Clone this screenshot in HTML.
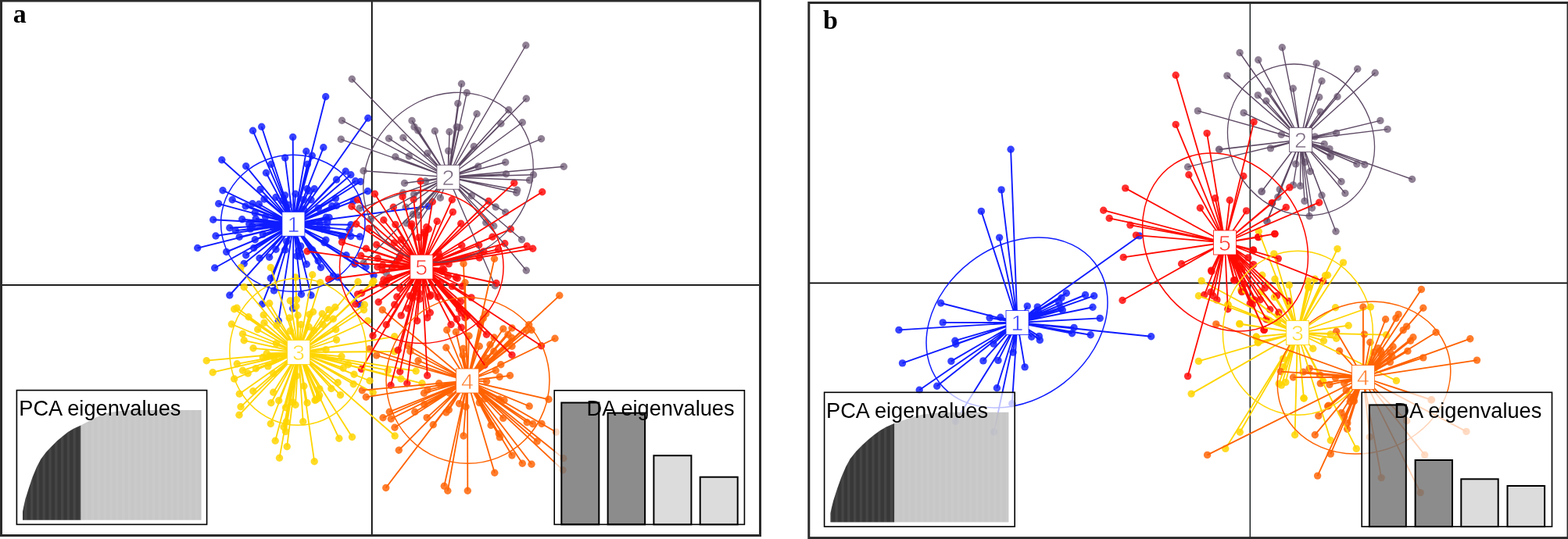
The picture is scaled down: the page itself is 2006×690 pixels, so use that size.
<!DOCTYPE html>
<html lang="en"><head><meta charset="utf-8"><title>DAPC scatter plots</title>
<style>
html,body{margin:0;padding:0;background:#fff;}
body{width:2006px;height:690px;overflow:hidden;}
svg{display:block;font-family:"Liberation Sans",sans-serif;}
</style></head><body>
<svg width="2006" height="690" viewBox="0 0 2006 690">
<defs>
<pattern id="stripeD" width="7.8" height="8" patternUnits="userSpaceOnUse"><rect x="0" y="0" width="3.2" height="8" fill="#fff" fill-opacity=".07"/></pattern>
<pattern id="stripeL" width="7.8" height="8" patternUnits="userSpaceOnUse"><rect x="0" y="0" width="3.2" height="8" fill="#fff" fill-opacity=".06"/></pattern>
</defs>
<rect width="2006" height="690" fill="#fff"/>
<g id="panel-a">
<path d="M475.8 1V685.5" stroke="#000" stroke-width="1.8" fill="none"/>
<path d="M1.5 364.8H972.5" stroke="#000" stroke-width="1.8" fill="none"/>
<g fill="#1422ff" fill-opacity=".85"><circle cx="416.7" cy="123.7" r="4.7"/><circle cx="470.8" cy="151.3" r="4.7"/><circle cx="334.7" cy="162.2" r="4.7"/><circle cx="323.5" cy="167.2" r="4.7"/><circle cx="374.7" cy="175.5" r="4.7"/><circle cx="413.8" cy="188.8" r="4.7"/><circle cx="391.8" cy="193.7" r="4.7"/><circle cx="399.3" cy="199.2" r="4.7"/><circle cx="393.3" cy="210.3" r="4.7"/><circle cx="364.7" cy="202" r="4.7"/><circle cx="283.8" cy="204.7" r="4.7"/><circle cx="314.7" cy="212.8" r="4.7"/><circle cx="346.8" cy="210.3" r="4.7"/><circle cx="340.5" cy="221.3" r="4.7"/><circle cx="442.2" cy="219.2" r="4.7"/><circle cx="448.8" cy="223.7" r="4.7"/><circle cx="285" cy="243.7" r="4.7"/><circle cx="333" cy="242.5" r="4.7"/><circle cx="338" cy="255" r="4.7"/><circle cx="353" cy="252.5" r="4.7"/><circle cx="364.7" cy="250" r="4.7"/><circle cx="378" cy="248.3" r="4.7"/><circle cx="393" cy="241.7" r="4.7"/><circle cx="402.2" cy="241.7" r="4.7"/><circle cx="398" cy="255.8" r="4.7"/><circle cx="430.5" cy="230" r="4.7"/><circle cx="454.7" cy="231.7" r="4.7"/><circle cx="461.3" cy="232.5" r="4.7"/><circle cx="470.5" cy="244.7" r="4.7"/><circle cx="297.2" cy="255.8" r="4.7"/><circle cx="279.7" cy="260.8" r="4.7"/><circle cx="323" cy="260.8" r="4.7"/><circle cx="331.3" cy="261.3" r="4.7"/><circle cx="430.5" cy="263.3" r="4.7"/><circle cx="452.2" cy="257.5" r="4.7"/><circle cx="417.2" cy="278.3" r="4.7"/><circle cx="418.8" cy="284.2" r="4.7"/><circle cx="413" cy="293.3" r="4.7"/><circle cx="272.7" cy="281.2" r="4.7"/><circle cx="309.7" cy="280.8" r="4.7"/><circle cx="327.2" cy="280" r="4.7"/><circle cx="293.8" cy="291.7" r="4.7"/><circle cx="301.3" cy="295.3" r="4.7"/><circle cx="276" cy="302" r="4.7"/><circle cx="306.3" cy="303.3" r="4.7"/><circle cx="326.3" cy="306.7" r="4.7"/><circle cx="336.3" cy="300" r="4.7"/><circle cx="252.7" cy="317.5" r="4.7"/><circle cx="289.7" cy="322.5" r="4.7"/><circle cx="314.7" cy="326.7" r="4.7"/><circle cx="324.7" cy="317.5" r="4.7"/><circle cx="353" cy="319.2" r="4.7"/><circle cx="364.7" cy="320" r="4.7"/><circle cx="384.7" cy="315" r="4.7"/><circle cx="448.8" cy="302.5" r="4.7"/><circle cx="460.5" cy="303" r="4.7"/><circle cx="443" cy="326.7" r="4.7"/><circle cx="383.8" cy="328.3" r="4.7"/><circle cx="437.2" cy="303.3" r="4.7"/><circle cx="274.7" cy="343" r="4.7"/><circle cx="312.2" cy="337.5" r="4.7"/><circle cx="346.3" cy="356.3" r="4.7"/><circle cx="350.5" cy="372" r="4.7"/><circle cx="293.8" cy="378" r="4.7"/><circle cx="335.5" cy="389.2" r="4.7"/><circle cx="374.7" cy="395" r="4.7"/><circle cx="356.3" cy="410.8" r="4.7"/><circle cx="385.5" cy="376.7" r="4.7"/><circle cx="398" cy="378" r="4.7"/><circle cx="392.2" cy="338.3" r="4.7"/><circle cx="410.5" cy="342.5" r="4.7"/><circle cx="426.3" cy="353.3" r="4.7"/><circle cx="432.2" cy="355" r="4.7"/><circle cx="460.5" cy="390" r="4.7"/><circle cx="478" cy="352.5" r="4.7"/><circle cx="468" cy="341.7" r="4.7"/><circle cx="453.8" cy="338.3" r="4.7"/><circle cx="548" cy="264" r="4.7"/><circle cx="326.2" cy="272.4" r="4.7"/><circle cx="416.9" cy="307.1" r="4.7"/><circle cx="322.6" cy="289.3" r="4.7"/><circle cx="395" cy="244.2" r="4.7"/><circle cx="332.1" cy="330.5" r="4.7"/><circle cx="407.3" cy="266.5" r="4.7"/><circle cx="429.4" cy="254" r="4.7"/><circle cx="366.6" cy="309.2" r="4.7"/><circle cx="446.9" cy="294.4" r="4.7"/><circle cx="344.6" cy="329.2" r="4.7"/><circle cx="388.5" cy="267.9" r="4.7"/><circle cx="349.7" cy="291.2" r="4.7"/><circle cx="388.4" cy="255.6" r="4.7"/><circle cx="421.1" cy="278.5" r="4.7"/><circle cx="314.2" cy="264" r="4.7"/><circle cx="320.3" cy="293.1" r="4.7"/><circle cx="318.8" cy="286.7" r="4.7"/><circle cx="339.6" cy="277.5" r="4.7"/><circle cx="448.9" cy="287.8" r="4.7"/><circle cx="407.1" cy="334" r="4.7"/><circle cx="361.6" cy="256.6" r="4.7"/><circle cx="368.9" cy="262.3" r="4.7"/><circle cx="379.8" cy="327.7" r="4.7"/><circle cx="399.7" cy="320" r="4.7"/><circle cx="439.1" cy="303.1" r="4.7"/><circle cx="409.1" cy="286.7" r="4.7"/><circle cx="415" cy="310.6" r="4.7"/><circle cx="418.3" cy="291.8" r="4.7"/><circle cx="424.7" cy="263.7" r="4.7"/><circle cx="381.9" cy="321.1" r="4.7"/></g>
<g fill="#7d6b83" fill-opacity=".85"><circle cx="672.8" cy="58" r="4.7"/><circle cx="450.3" cy="101.2" r="4.7"/><circle cx="590.5" cy="107.2" r="4.7"/><circle cx="597.2" cy="118.8" r="4.7"/><circle cx="673.3" cy="126.3" r="4.7"/><circle cx="585.8" cy="132.5" r="4.7"/><circle cx="650.8" cy="140.8" r="4.7"/><circle cx="610" cy="145.8" r="4.7"/><circle cx="437.5" cy="154.2" r="4.7"/><circle cx="527" cy="154.5" r="4.7"/><circle cx="640.8" cy="158.3" r="4.7"/><circle cx="668.3" cy="156.7" r="4.7"/><circle cx="436.3" cy="178.3" r="4.7"/><circle cx="497.5" cy="177.2" r="4.7"/><circle cx="515.8" cy="176.2" r="4.7"/><circle cx="530" cy="162.5" r="4.7"/><circle cx="534.7" cy="167" r="4.7"/><circle cx="556.3" cy="167.8" r="4.7"/><circle cx="575" cy="168.7" r="4.7"/><circle cx="584.2" cy="162.5" r="4.7"/><circle cx="588" cy="163.3" r="4.7"/><circle cx="692.5" cy="177.8" r="4.7"/><circle cx="606.3" cy="187.5" r="4.7"/><circle cx="546.7" cy="196.3" r="4.7"/><circle cx="505.8" cy="200.8" r="4.7"/><circle cx="523.3" cy="200" r="4.7"/><circle cx="646.7" cy="207.8" r="4.7"/><circle cx="611.7" cy="213" r="4.7"/><circle cx="721.3" cy="213.3" r="4.7"/><circle cx="465" cy="218.7" r="4.7"/><circle cx="647.5" cy="222.8" r="4.7"/><circle cx="682.5" cy="223.7" r="4.7"/><circle cx="677.5" cy="230.8" r="4.7"/><circle cx="517.5" cy="234.5" r="4.7"/><circle cx="661.7" cy="243.3" r="4.7"/><circle cx="660.8" cy="246.7" r="4.7"/><circle cx="603.3" cy="250.8" r="4.7"/><circle cx="634.2" cy="265" r="4.7"/><circle cx="646.7" cy="271.7" r="4.7"/><circle cx="563.3" cy="253.3" r="4.7"/><circle cx="460" cy="266.7" r="4.7"/><circle cx="667.5" cy="306.7" r="4.7"/><circle cx="673.3" cy="346.3" r="4.7"/><circle cx="633.3" cy="365.8" r="4.7"/><circle cx="520" cy="285.8" r="4.7"/><circle cx="528.3" cy="274.2" r="4.7"/><circle cx="474.2" cy="280.8" r="4.7"/><circle cx="621.7" cy="285" r="4.7"/><circle cx="631.7" cy="289.2" r="4.7"/><circle cx="494.2" cy="349.2" r="4.7"/><circle cx="465" cy="336.7" r="4.7"/><circle cx="515.5" cy="247" r="4.7"/><circle cx="544.5" cy="232" r="4.7"/><circle cx="519.1" cy="265.2" r="4.7"/><circle cx="535.3" cy="275.5" r="4.7"/><circle cx="573.7" cy="193.1" r="4.7"/><circle cx="529.6" cy="248.7" r="4.7"/></g>
<g fill="#ffd500" fill-opacity=".85"><circle cx="308" cy="342.5" r="4.7"/><circle cx="346.3" cy="342.5" r="4.7"/><circle cx="399.7" cy="351.7" r="4.7"/><circle cx="409.7" cy="361.7" r="4.7"/><circle cx="312.2" cy="367.5" r="4.7"/><circle cx="378" cy="355" r="4.7"/><circle cx="299.7" cy="395.8" r="4.7"/><circle cx="303" cy="394.2" r="4.7"/><circle cx="344.7" cy="388.3" r="4.7"/><circle cx="371.3" cy="385" r="4.7"/><circle cx="318" cy="405.8" r="4.7"/><circle cx="337.2" cy="403.3" r="4.7"/><circle cx="296.3" cy="415" r="4.7"/><circle cx="338" cy="413.3" r="4.7"/><circle cx="329.7" cy="421.7" r="4.7"/><circle cx="310.5" cy="427.5" r="4.7"/><circle cx="312.2" cy="435.8" r="4.7"/><circle cx="400.5" cy="399.2" r="4.7"/><circle cx="412.2" cy="401.7" r="4.7"/><circle cx="428.8" cy="393.3" r="4.7"/><circle cx="426.3" cy="408.3" r="4.7"/><circle cx="429.7" cy="421.7" r="4.7"/><circle cx="430.5" cy="435" r="4.7"/><circle cx="466.3" cy="390" r="4.7"/><circle cx="465.5" cy="396.7" r="4.7"/><circle cx="458" cy="360.8" r="4.7"/><circle cx="476.3" cy="362.5" r="4.7"/><circle cx="470.5" cy="410.8" r="4.7"/><circle cx="504.7" cy="430.8" r="4.7"/><circle cx="478" cy="359.7" r="4.7"/><circle cx="264.2" cy="461.7" r="4.7"/><circle cx="272.2" cy="476.7" r="4.7"/><circle cx="303.3" cy="465.8" r="4.7"/><circle cx="310.5" cy="474.2" r="4.7"/><circle cx="317.2" cy="478" r="4.7"/><circle cx="299.7" cy="485" r="4.7"/><circle cx="306.3" cy="504.2" r="4.7"/><circle cx="323.8" cy="500.8" r="4.7"/><circle cx="308" cy="520.8" r="4.7"/><circle cx="306" cy="531.3" r="4.7"/><circle cx="349.7" cy="502.2" r="4.7"/><circle cx="346.8" cy="515.8" r="4.7"/><circle cx="346.3" cy="542.5" r="4.7"/><circle cx="374.7" cy="515" r="4.7"/><circle cx="378" cy="518.3" r="4.7"/><circle cx="365.5" cy="521.7" r="4.7"/><circle cx="388.8" cy="494.2" r="4.7"/><circle cx="393" cy="515.8" r="4.7"/><circle cx="403" cy="512.5" r="4.7"/><circle cx="387.7" cy="539.7" r="4.7"/><circle cx="366.3" cy="540" r="4.7"/><circle cx="363" cy="546.7" r="4.7"/><circle cx="432.2" cy="489.7" r="4.7"/><circle cx="423.8" cy="497.5" r="4.7"/><circle cx="435.5" cy="505.8" r="4.7"/><circle cx="452.2" cy="491.7" r="4.7"/><circle cx="453" cy="479.2" r="4.7"/><circle cx="473" cy="487.5" r="4.7"/><circle cx="477.2" cy="502.5" r="4.7"/><circle cx="445.5" cy="466.7" r="4.7"/><circle cx="341.3" cy="452.5" r="4.7"/><circle cx="336.3" cy="457.5" r="4.7"/><circle cx="504.7" cy="450" r="4.7"/><circle cx="513" cy="485" r="4.7"/><circle cx="532.2" cy="475" r="4.7"/><circle cx="496.3" cy="474.2" r="4.7"/><circle cx="365.5" cy="552.5" r="4.7"/><circle cx="352.2" cy="564.2" r="4.7"/><circle cx="367.2" cy="571.7" r="4.7"/><circle cx="357.5" cy="586.3" r="4.7"/><circle cx="402.2" cy="590.8" r="4.7"/><circle cx="433.8" cy="561.3" r="4.7"/><circle cx="450.5" cy="559.5" r="4.7"/><circle cx="505.2" cy="558" r="4.7"/><circle cx="540" cy="490.8" r="4.7"/><circle cx="378.9" cy="392.2" r="4.7"/><circle cx="356.7" cy="512.7" r="4.7"/><circle cx="395" cy="418.4" r="4.7"/><circle cx="401.7" cy="422.9" r="4.7"/><circle cx="379.2" cy="481.1" r="4.7"/><circle cx="350.5" cy="457.8" r="4.7"/><circle cx="370.2" cy="407" r="4.7"/><circle cx="408.8" cy="497.8" r="4.7"/><circle cx="417" cy="447.6" r="4.7"/><circle cx="420.6" cy="396.4" r="4.7"/><circle cx="404.2" cy="511.6" r="4.7"/><circle cx="408.6" cy="506" r="4.7"/><circle cx="439.1" cy="471.2" r="4.7"/><circle cx="379.4" cy="383.6" r="4.7"/><circle cx="324" cy="445.8" r="4.7"/><circle cx="342.9" cy="468.9" r="4.7"/><circle cx="354" cy="416.6" r="4.7"/><circle cx="371.3" cy="423.8" r="4.7"/><circle cx="407.5" cy="509.7" r="4.7"/><circle cx="436.9" cy="456.3" r="4.7"/><circle cx="327.4" cy="471.8" r="4.7"/><circle cx="418" cy="407.2" r="4.7"/><circle cx="353.5" cy="439.6" r="4.7"/><circle cx="395.8" cy="402.7" r="4.7"/><circle cx="381.1" cy="403.8" r="4.7"/><circle cx="349.7" cy="478.1" r="4.7"/><circle cx="413" cy="415.2" r="4.7"/><circle cx="385" cy="415.5" r="4.7"/></g>
<g fill="#ff6608" fill-opacity=".85"><circle cx="593" cy="337.5" r="4.7"/><circle cx="632.5" cy="331.3" r="4.7"/><circle cx="595" cy="361.7" r="4.7"/><circle cx="715.8" cy="378.3" r="4.7"/><circle cx="489.2" cy="396.7" r="4.7"/><circle cx="676.7" cy="415.8" r="4.7"/><circle cx="673.3" cy="422.5" r="4.7"/><circle cx="680" cy="422.5" r="4.7"/><circle cx="710" cy="433.3" r="4.7"/><circle cx="655" cy="420" r="4.7"/><circle cx="650" cy="428.3" r="4.7"/><circle cx="571.7" cy="422.5" r="4.7"/><circle cx="583.3" cy="425" r="4.7"/><circle cx="600" cy="430" r="4.7"/><circle cx="570.8" cy="445" r="4.7"/><circle cx="655" cy="443.3" r="4.7"/><circle cx="472.5" cy="446.7" r="4.7"/><circle cx="481.7" cy="455" r="4.7"/><circle cx="521.7" cy="442.5" r="4.7"/><circle cx="535" cy="461.7" r="4.7"/><circle cx="640.8" cy="466.7" r="4.7"/><circle cx="634.2" cy="474.2" r="4.7"/><circle cx="652.5" cy="480.8" r="4.7"/><circle cx="639.2" cy="482.5" r="4.7"/><circle cx="622.5" cy="488.3" r="4.7"/><circle cx="561.7" cy="490.8" r="4.7"/><circle cx="618.3" cy="407.5" r="4.7"/><circle cx="621.7" cy="401.7" r="4.7"/><circle cx="613.3" cy="443.3" r="4.7"/><circle cx="463.3" cy="499.7" r="4.7"/><circle cx="468.3" cy="508.3" r="4.7"/><circle cx="542.5" cy="503.3" r="4.7"/><circle cx="498.3" cy="527.2" r="4.7"/><circle cx="490" cy="534.7" r="4.7"/><circle cx="500.3" cy="536.2" r="4.7"/><circle cx="530.8" cy="527.2" r="4.7"/><circle cx="505" cy="547.2" r="4.7"/><circle cx="570.8" cy="528" r="4.7"/><circle cx="587.5" cy="516.7" r="4.7"/><circle cx="554.2" cy="543.8" r="4.7"/><circle cx="593" cy="558" r="4.7"/><circle cx="510.3" cy="576.3" r="4.7"/><circle cx="645" cy="512.5" r="4.7"/><circle cx="677.2" cy="520" r="4.7"/><circle cx="702" cy="511.3" r="4.7"/><circle cx="674.2" cy="540.8" r="4.7"/><circle cx="681.7" cy="542.8" r="4.7"/><circle cx="693" cy="542.5" r="4.7"/><circle cx="687.2" cy="565" r="4.7"/><circle cx="711.7" cy="553.3" r="4.7"/><circle cx="655" cy="583" r="4.7"/><circle cx="720.8" cy="586.7" r="4.7"/><circle cx="668.3" cy="593.3" r="4.7"/><circle cx="680" cy="594.2" r="4.7"/><circle cx="493.7" cy="624.5" r="4.7"/><circle cx="568.3" cy="622.2" r="4.7"/><circle cx="572.8" cy="628.3" r="4.7"/><circle cx="598.3" cy="628.3" r="4.7"/><circle cx="632.8" cy="605.3" r="4.7"/><circle cx="720" cy="601.7" r="4.7"/><circle cx="546.1" cy="534.6" r="4.7"/><circle cx="592.6" cy="446.3" r="4.7"/><circle cx="574.3" cy="524.7" r="4.7"/><circle cx="654.7" cy="432.5" r="4.7"/><circle cx="638.3" cy="555.3" r="4.7"/><circle cx="638.7" cy="511" r="4.7"/><circle cx="632.1" cy="432" r="4.7"/><circle cx="628.1" cy="544.5" r="4.7"/><circle cx="575.1" cy="503.3" r="4.7"/><circle cx="639.4" cy="559.9" r="4.7"/><circle cx="643.8" cy="421" r="4.7"/><circle cx="643.7" cy="535.4" r="4.7"/><circle cx="542.8" cy="517.8" r="4.7"/><circle cx="613.3" cy="515.6" r="4.7"/><circle cx="621.5" cy="458.1" r="4.7"/><circle cx="627" cy="441.2" r="4.7"/><circle cx="620.6" cy="510.5" r="4.7"/><circle cx="592.1" cy="454.6" r="4.7"/><circle cx="596" cy="520.7" r="4.7"/><circle cx="524.8" cy="449.7" r="4.7"/><circle cx="547" cy="499.1" r="4.7"/><circle cx="631.8" cy="449.8" r="4.7"/></g>
<g fill="#ff0c0c" fill-opacity=".85"><circle cx="393" cy="321.7" r="4.7"/><circle cx="420.5" cy="357.5" r="4.7"/><circle cx="454.7" cy="389.2" r="4.7"/><circle cx="504.7" cy="390" r="4.7"/><circle cx="538" cy="232" r="4.7"/><circle cx="657.8" cy="234.2" r="4.7"/><circle cx="693.7" cy="245.8" r="4.7"/><circle cx="479.5" cy="248.3" r="4.7"/><circle cx="515" cy="251.7" r="4.7"/><circle cx="529.2" cy="255.3" r="4.7"/><circle cx="553.3" cy="258.3" r="4.7"/><circle cx="578.3" cy="255.8" r="4.7"/><circle cx="625" cy="257.5" r="4.7"/><circle cx="503.3" cy="265.3" r="4.7"/><circle cx="450" cy="264.2" r="4.7"/><circle cx="457.5" cy="255.8" r="4.7"/><circle cx="455.8" cy="286.7" r="4.7"/><circle cx="471.7" cy="292.5" r="4.7"/><circle cx="490.8" cy="281.7" r="4.7"/><circle cx="437.5" cy="310" r="4.7"/><circle cx="468.3" cy="318.3" r="4.7"/><circle cx="481.7" cy="313.3" r="4.7"/><circle cx="483.3" cy="330.8" r="4.7"/><circle cx="489.2" cy="345.8" r="4.7"/><circle cx="498.3" cy="355.8" r="4.7"/><circle cx="511.7" cy="369.2" r="4.7"/><circle cx="457.5" cy="376.7" r="4.7"/><circle cx="559.2" cy="283.3" r="4.7"/><circle cx="589.7" cy="286.2" r="4.7"/><circle cx="548.3" cy="293.3" r="4.7"/><circle cx="653.3" cy="293.3" r="4.7"/><circle cx="630" cy="303.3" r="4.7"/><circle cx="645.8" cy="311.7" r="4.7"/><circle cx="674.2" cy="315" r="4.7"/><circle cx="681.7" cy="318.3" r="4.7"/><circle cx="637.5" cy="319.2" r="4.7"/><circle cx="590.8" cy="314.2" r="4.7"/><circle cx="613.3" cy="330" r="4.7"/><circle cx="583.3" cy="355" r="4.7"/><circle cx="635" cy="362.5" r="4.7"/><circle cx="550" cy="379.2" r="4.7"/><circle cx="531.7" cy="370" r="4.7"/><circle cx="513.3" cy="306.7" r="4.7"/><circle cx="526.7" cy="286.7" r="4.7"/><circle cx="484.2" cy="386.7" r="4.7"/><circle cx="521.7" cy="395" r="4.7"/><circle cx="587.5" cy="395.8" r="4.7"/><circle cx="494.2" cy="415.8" r="4.7"/><circle cx="533.7" cy="410.8" r="4.7"/><circle cx="546.7" cy="406.7" r="4.7"/><circle cx="577" cy="415.5" r="4.7"/><circle cx="590.3" cy="419.2" r="4.7"/><circle cx="622.5" cy="428.3" r="4.7"/><circle cx="477" cy="429.7" r="4.7"/><circle cx="655" cy="454.5" r="4.7"/><circle cx="692.5" cy="442.8" r="4.7"/><circle cx="509.2" cy="448.3" r="4.7"/><circle cx="462.5" cy="472.5" r="4.7"/><circle cx="511.7" cy="475.8" r="4.7"/><circle cx="546.7" cy="480.8" r="4.7"/><circle cx="520.8" cy="490.8" r="4.7"/><circle cx="500" cy="493.3" r="4.7"/><circle cx="620" cy="467.5" r="4.7"/><circle cx="614.2" cy="415.8" r="4.7"/><circle cx="565.6" cy="347.2" r="4.7"/><circle cx="536.1" cy="375.4" r="4.7"/><circle cx="566.5" cy="343.9" r="4.7"/><circle cx="589.5" cy="386" r="4.7"/><circle cx="594.9" cy="406.8" r="4.7"/><circle cx="542.4" cy="297.4" r="4.7"/><circle cx="527.9" cy="381.3" r="4.7"/><circle cx="535.9" cy="303.9" r="4.7"/><circle cx="590.2" cy="400.9" r="4.7"/><circle cx="551.2" cy="377.7" r="4.7"/><circle cx="591.3" cy="366.5" r="4.7"/><circle cx="545.7" cy="290.8" r="4.7"/><circle cx="512" cy="327.6" r="4.7"/><circle cx="494.4" cy="359.8" r="4.7"/><circle cx="462.6" cy="375.2" r="4.7"/><circle cx="507.8" cy="380" r="4.7"/><circle cx="597.4" cy="404.5" r="4.7"/><circle cx="453.8" cy="336.8" r="4.7"/><circle cx="574.1" cy="337.9" r="4.7"/><circle cx="579.3" cy="271.4" r="4.7"/><circle cx="513.2" cy="403.9" r="4.7"/><circle cx="526.2" cy="289.5" r="4.7"/><circle cx="563.9" cy="361.5" r="4.7"/><circle cx="561" cy="323.5" r="4.7"/><circle cx="461.8" cy="327.2" r="4.7"/><circle cx="490.9" cy="358" r="4.7"/><circle cx="501.8" cy="342.2" r="4.7"/><circle cx="585.2" cy="356.2" r="4.7"/><circle cx="543.5" cy="299.1" r="4.7"/><circle cx="560.3" cy="380.2" r="4.7"/><circle cx="578.4" cy="366.6" r="4.7"/><circle cx="510.5" cy="331.3" r="4.7"/><circle cx="603" cy="380.9" r="4.7"/><circle cx="506.3" cy="336.7" r="4.7"/><circle cx="489.5" cy="339.5" r="4.7"/><circle cx="584.6" cy="408.5" r="4.7"/><circle cx="536.8" cy="383" r="4.7"/><circle cx="618.9" cy="321.9" r="4.7"/><circle cx="573.3" cy="353.3" r="4.7"/><circle cx="482.9" cy="341.7" r="4.7"/><circle cx="567.9" cy="345.7" r="4.7"/><circle cx="612.7" cy="313.7" r="4.7"/><circle cx="489.2" cy="363.6" r="4.7"/><circle cx="550.3" cy="400.2" r="4.7"/><circle cx="524.3" cy="378.7" r="4.7"/><circle cx="562.3" cy="329" r="4.7"/><circle cx="505.9" cy="287.4" r="4.7"/><circle cx="504.3" cy="310.9" r="4.7"/></g>
<path d="M375.4 286.8L416.7 123.7M375.4 286.8L470.8 151.3M375.4 286.8L334.7 162.2M375.4 286.8L323.5 167.2M375.4 286.8L374.7 175.5M375.4 286.8L413.8 188.8M375.4 286.8L391.8 193.7M375.4 286.8L399.3 199.2M375.4 286.8L393.3 210.3M375.4 286.8L364.7 202M375.4 286.8L283.8 204.7M375.4 286.8L314.7 212.8M375.4 286.8L346.8 210.3M375.4 286.8L340.5 221.3M375.4 286.8L442.2 219.2M375.4 286.8L448.8 223.7M375.4 286.8L285 243.7M375.4 286.8L333 242.5M375.4 286.8L338 255M375.4 286.8L353 252.5M375.4 286.8L364.7 250M375.4 286.8L378 248.3M375.4 286.8L393 241.7M375.4 286.8L402.2 241.7M375.4 286.8L398 255.8M375.4 286.8L430.5 230M375.4 286.8L454.7 231.7M375.4 286.8L461.3 232.5M375.4 286.8L470.5 244.7M375.4 286.8L297.2 255.8M375.4 286.8L279.7 260.8M375.4 286.8L323 260.8M375.4 286.8L331.3 261.3M375.4 286.8L430.5 263.3M375.4 286.8L452.2 257.5M375.4 286.8L417.2 278.3M375.4 286.8L418.8 284.2M375.4 286.8L413 293.3M375.4 286.8L272.7 281.2M375.4 286.8L309.7 280.8M375.4 286.8L327.2 280M375.4 286.8L293.8 291.7M375.4 286.8L301.3 295.3M375.4 286.8L276 302M375.4 286.8L306.3 303.3M375.4 286.8L326.3 306.7M375.4 286.8L336.3 300M375.4 286.8L252.7 317.5M375.4 286.8L289.7 322.5M375.4 286.8L314.7 326.7M375.4 286.8L324.7 317.5M375.4 286.8L353 319.2M375.4 286.8L364.7 320M375.4 286.8L384.7 315M375.4 286.8L448.8 302.5M375.4 286.8L460.5 303M375.4 286.8L443 326.7M375.4 286.8L383.8 328.3M375.4 286.8L437.2 303.3M375.4 286.8L274.7 343M375.4 286.8L312.2 337.5M375.4 286.8L346.3 356.3M375.4 286.8L350.5 372M375.4 286.8L293.8 378M375.4 286.8L335.5 389.2M375.4 286.8L374.7 395M375.4 286.8L356.3 410.8M375.4 286.8L385.5 376.7M375.4 286.8L398 378M375.4 286.8L392.2 338.3M375.4 286.8L410.5 342.5M375.4 286.8L426.3 353.3M375.4 286.8L432.2 355M375.4 286.8L460.5 390M375.4 286.8L478 352.5M375.4 286.8L468 341.7M375.4 286.8L453.8 338.3M375.4 286.8L548 264M375.4 286.8L326.2 272.4M375.4 286.8L416.9 307.1M375.4 286.8L322.6 289.3M375.4 286.8L395 244.2M375.4 286.8L332.1 330.5M375.4 286.8L407.3 266.5M375.4 286.8L429.4 254M375.4 286.8L366.6 309.2M375.4 286.8L446.9 294.4M375.4 286.8L344.6 329.2M375.4 286.8L388.5 267.9M375.4 286.8L349.7 291.2M375.4 286.8L388.4 255.6M375.4 286.8L421.1 278.5M375.4 286.8L314.2 264M375.4 286.8L320.3 293.1M375.4 286.8L318.8 286.7M375.4 286.8L339.6 277.5M375.4 286.8L448.9 287.8M375.4 286.8L407.1 334M375.4 286.8L361.6 256.6M375.4 286.8L368.9 262.3M375.4 286.8L379.8 327.7M375.4 286.8L399.7 320M375.4 286.8L439.1 303.1M375.4 286.8L409.1 286.7M375.4 286.8L415 310.6M375.4 286.8L418.3 291.8M375.4 286.8L424.7 263.7M375.4 286.8L381.9 321.1" stroke="#0f1cff" stroke-width="1.9" fill="none"/>
<path d="M573.4 226.8L672.8 58M573.4 226.8L450.3 101.2M573.4 226.8L590.5 107.2M573.4 226.8L597.2 118.8M573.4 226.8L673.3 126.3M573.4 226.8L585.8 132.5M573.4 226.8L650.8 140.8M573.4 226.8L610 145.8M573.4 226.8L437.5 154.2M573.4 226.8L527 154.5M573.4 226.8L640.8 158.3M573.4 226.8L668.3 156.7M573.4 226.8L436.3 178.3M573.4 226.8L497.5 177.2M573.4 226.8L515.8 176.2M573.4 226.8L530 162.5M573.4 226.8L534.7 167M573.4 226.8L556.3 167.8M573.4 226.8L575 168.7M573.4 226.8L584.2 162.5M573.4 226.8L588 163.3M573.4 226.8L692.5 177.8M573.4 226.8L606.3 187.5M573.4 226.8L546.7 196.3M573.4 226.8L505.8 200.8M573.4 226.8L523.3 200M573.4 226.8L646.7 207.8M573.4 226.8L611.7 213M573.4 226.8L721.3 213.3M573.4 226.8L465 218.7M573.4 226.8L647.5 222.8M573.4 226.8L682.5 223.7M573.4 226.8L677.5 230.8M573.4 226.8L517.5 234.5M573.4 226.8L661.7 243.3M573.4 226.8L660.8 246.7M573.4 226.8L603.3 250.8M573.4 226.8L634.2 265M573.4 226.8L646.7 271.7M573.4 226.8L563.3 253.3M573.4 226.8L460 266.7M573.4 226.8L667.5 306.7M573.4 226.8L673.3 346.3M573.4 226.8L633.3 365.8M573.4 226.8L520 285.8M573.4 226.8L528.3 274.2M573.4 226.8L474.2 280.8M573.4 226.8L621.7 285M573.4 226.8L631.7 289.2M573.4 226.8L494.2 349.2M573.4 226.8L465 336.7M573.4 226.8L515.5 247M573.4 226.8L544.5 232M573.4 226.8L519.1 265.2M573.4 226.8L535.3 275.5M573.4 226.8L573.7 193.1M573.4 226.8L529.6 248.7" stroke="#5e4a65" stroke-width="1.4" fill="none"/>
<path d="M382 451L308 342.5M382 451L346.3 342.5M382 451L399.7 351.7M382 451L409.7 361.7M382 451L312.2 367.5M382 451L378 355M382 451L299.7 395.8M382 451L303 394.2M382 451L344.7 388.3M382 451L371.3 385M382 451L318 405.8M382 451L337.2 403.3M382 451L296.3 415M382 451L338 413.3M382 451L329.7 421.7M382 451L310.5 427.5M382 451L312.2 435.8M382 451L400.5 399.2M382 451L412.2 401.7M382 451L428.8 393.3M382 451L426.3 408.3M382 451L429.7 421.7M382 451L430.5 435M382 451L466.3 390M382 451L465.5 396.7M382 451L458 360.8M382 451L476.3 362.5M382 451L470.5 410.8M382 451L504.7 430.8M382 451L478 359.7M382 451L264.2 461.7M382 451L272.2 476.7M382 451L303.3 465.8M382 451L310.5 474.2M382 451L317.2 478M382 451L299.7 485M382 451L306.3 504.2M382 451L323.8 500.8M382 451L308 520.8M382 451L306 531.3M382 451L349.7 502.2M382 451L346.8 515.8M382 451L346.3 542.5M382 451L374.7 515M382 451L378 518.3M382 451L365.5 521.7M382 451L388.8 494.2M382 451L393 515.8M382 451L403 512.5M382 451L387.7 539.7M382 451L366.3 540M382 451L363 546.7M382 451L432.2 489.7M382 451L423.8 497.5M382 451L435.5 505.8M382 451L452.2 491.7M382 451L453 479.2M382 451L473 487.5M382 451L477.2 502.5M382 451L445.5 466.7M382 451L341.3 452.5M382 451L336.3 457.5M382 451L504.7 450M382 451L513 485M382 451L532.2 475M382 451L496.3 474.2M382 451L365.5 552.5M382 451L352.2 564.2M382 451L367.2 571.7M382 451L357.5 586.3M382 451L402.2 590.8M382 451L433.8 561.3M382 451L450.5 559.5M382 451L505.2 558M382 451L540 490.8M382 451L378.9 392.2M382 451L356.7 512.7M382 451L395 418.4M382 451L401.7 422.9M382 451L379.2 481.1M382 451L350.5 457.8M382 451L370.2 407M382 451L408.8 497.8M382 451L417 447.6M382 451L420.6 396.4M382 451L404.2 511.6M382 451L408.6 506M382 451L439.1 471.2M382 451L379.4 383.6M382 451L324 445.8M382 451L342.9 468.9M382 451L354 416.6M382 451L371.3 423.8M382 451L407.5 509.7M382 451L436.9 456.3M382 451L327.4 471.8M382 451L418 407.2M382 451L353.5 439.6M382 451L395.8 402.7M382 451L381.1 403.8M382 451L349.7 478.1M382 451L413 415.2M382 451L385 415.5" stroke="#ffd500" stroke-width="1.8" fill="none"/>
<path d="M598 487.5L593 337.5M598 487.5L632.5 331.3M598 487.5L595 361.7M598 487.5L715.8 378.3M598 487.5L489.2 396.7M598 487.5L676.7 415.8M598 487.5L673.3 422.5M598 487.5L680 422.5M598 487.5L710 433.3M598 487.5L655 420M598 487.5L650 428.3M598 487.5L571.7 422.5M598 487.5L583.3 425M598 487.5L600 430M598 487.5L570.8 445M598 487.5L655 443.3M598 487.5L472.5 446.7M598 487.5L481.7 455M598 487.5L521.7 442.5M598 487.5L535 461.7M598 487.5L640.8 466.7M598 487.5L634.2 474.2M598 487.5L652.5 480.8M598 487.5L639.2 482.5M598 487.5L622.5 488.3M598 487.5L561.7 490.8M598 487.5L618.3 407.5M598 487.5L621.7 401.7M598 487.5L613.3 443.3M598 487.5L463.3 499.7M598 487.5L468.3 508.3M598 487.5L542.5 503.3M598 487.5L498.3 527.2M598 487.5L490 534.7M598 487.5L500.3 536.2M598 487.5L530.8 527.2M598 487.5L505 547.2M598 487.5L570.8 528M598 487.5L587.5 516.7M598 487.5L554.2 543.8M598 487.5L593 558M598 487.5L510.3 576.3M598 487.5L645 512.5M598 487.5L677.2 520M598 487.5L702 511.3M598 487.5L674.2 540.8M598 487.5L681.7 542.8M598 487.5L693 542.5M598 487.5L687.2 565M598 487.5L711.7 553.3M598 487.5L655 583M598 487.5L720.8 586.7M598 487.5L668.3 593.3M598 487.5L680 594.2M598 487.5L493.7 624.5M598 487.5L568.3 622.2M598 487.5L572.8 628.3M598 487.5L598.3 628.3M598 487.5L632.8 605.3M598 487.5L720 601.7M598 487.5L546.1 534.6M598 487.5L592.6 446.3M598 487.5L574.3 524.7M598 487.5L654.7 432.5M598 487.5L638.3 555.3M598 487.5L638.7 511M598 487.5L632.1 432M598 487.5L628.1 544.5M598 487.5L575.1 503.3M598 487.5L639.4 559.9M598 487.5L643.8 421M598 487.5L643.7 535.4M598 487.5L542.8 517.8M598 487.5L613.3 515.6M598 487.5L621.5 458.1M598 487.5L627 441.2M598 487.5L620.6 510.5M598 487.5L592.1 454.6M598 487.5L596 520.7M598 487.5L524.8 449.7M598 487.5L547 499.1M598 487.5L631.8 449.8" stroke="#ff6200" stroke-width="1.8" fill="none"/>
<path d="M539.3 341.7L393 321.7M539.3 341.7L420.5 357.5M539.3 341.7L454.7 389.2M539.3 341.7L504.7 390M539.3 341.7L538 232M539.3 341.7L657.8 234.2M539.3 341.7L693.7 245.8M539.3 341.7L479.5 248.3M539.3 341.7L515 251.7M539.3 341.7L529.2 255.3M539.3 341.7L553.3 258.3M539.3 341.7L578.3 255.8M539.3 341.7L625 257.5M539.3 341.7L503.3 265.3M539.3 341.7L450 264.2M539.3 341.7L457.5 255.8M539.3 341.7L455.8 286.7M539.3 341.7L471.7 292.5M539.3 341.7L490.8 281.7M539.3 341.7L437.5 310M539.3 341.7L468.3 318.3M539.3 341.7L481.7 313.3M539.3 341.7L483.3 330.8M539.3 341.7L489.2 345.8M539.3 341.7L498.3 355.8M539.3 341.7L511.7 369.2M539.3 341.7L457.5 376.7M539.3 341.7L559.2 283.3M539.3 341.7L589.7 286.2M539.3 341.7L548.3 293.3M539.3 341.7L653.3 293.3M539.3 341.7L630 303.3M539.3 341.7L645.8 311.7M539.3 341.7L674.2 315M539.3 341.7L681.7 318.3M539.3 341.7L637.5 319.2M539.3 341.7L590.8 314.2M539.3 341.7L613.3 330M539.3 341.7L583.3 355M539.3 341.7L635 362.5M539.3 341.7L550 379.2M539.3 341.7L531.7 370M539.3 341.7L513.3 306.7M539.3 341.7L526.7 286.7M539.3 341.7L484.2 386.7M539.3 341.7L521.7 395M539.3 341.7L587.5 395.8M539.3 341.7L494.2 415.8M539.3 341.7L533.7 410.8M539.3 341.7L546.7 406.7M539.3 341.7L577 415.5M539.3 341.7L590.3 419.2M539.3 341.7L622.5 428.3M539.3 341.7L477 429.7M539.3 341.7L655 454.5M539.3 341.7L692.5 442.8M539.3 341.7L509.2 448.3M539.3 341.7L462.5 472.5M539.3 341.7L511.7 475.8M539.3 341.7L546.7 480.8M539.3 341.7L520.8 490.8M539.3 341.7L500 493.3M539.3 341.7L620 467.5M539.3 341.7L614.2 415.8M539.3 341.7L565.6 347.2M539.3 341.7L536.1 375.4M539.3 341.7L566.5 343.9M539.3 341.7L589.5 386M539.3 341.7L594.9 406.8M539.3 341.7L542.4 297.4M539.3 341.7L527.9 381.3M539.3 341.7L535.9 303.9M539.3 341.7L590.2 400.9M539.3 341.7L551.2 377.7M539.3 341.7L591.3 366.5M539.3 341.7L545.7 290.8M539.3 341.7L512 327.6M539.3 341.7L494.4 359.8M539.3 341.7L462.6 375.2M539.3 341.7L507.8 380M539.3 341.7L597.4 404.5M539.3 341.7L453.8 336.8M539.3 341.7L574.1 337.9M539.3 341.7L579.3 271.4M539.3 341.7L513.2 403.9M539.3 341.7L526.2 289.5M539.3 341.7L563.9 361.5M539.3 341.7L561 323.5M539.3 341.7L461.8 327.2M539.3 341.7L490.9 358M539.3 341.7L501.8 342.2M539.3 341.7L585.2 356.2M539.3 341.7L543.5 299.1M539.3 341.7L560.3 380.2M539.3 341.7L578.4 366.6M539.3 341.7L510.5 331.3M539.3 341.7L603 380.9M539.3 341.7L506.3 336.7M539.3 341.7L489.5 339.5M539.3 341.7L584.6 408.5M539.3 341.7L536.8 383M539.3 341.7L618.9 321.9M539.3 341.7L573.3 353.3M539.3 341.7L482.9 341.7M539.3 341.7L567.9 345.7M539.3 341.7L612.7 313.7M539.3 341.7L489.2 363.6M539.3 341.7L550.3 400.2M539.3 341.7L524.3 378.7M539.3 341.7L562.3 329M539.3 341.7L505.9 287.4M539.3 341.7L504.3 310.9" stroke="#ff0a00" stroke-width="1.8" fill="none"/>
<ellipse cx="374.8" cy="285.8" rx="92.2" ry="87.5" transform="rotate(0 374.8 285.8)" fill="none" stroke="#0f1cff" stroke-width="1.5"/>
<ellipse cx="573.5" cy="227" rx="115" ry="102" transform="rotate(-45 573.5 227)" fill="none" stroke="#5e4a65" stroke-width="1.3"/>
<ellipse cx="381.3" cy="450.3" rx="87.5" ry="94" transform="rotate(0 381.3 450.3)" fill="none" stroke="#ffd500" stroke-width="1.5"/>
<ellipse cx="598.5" cy="487" rx="104.5" ry="106.3" transform="rotate(0 598.5 487)" fill="none" stroke="#ff6200" stroke-width="1.5"/>
<ellipse cx="539.3" cy="341.5" rx="104.8" ry="98" transform="rotate(0 539.3 341.5)" fill="none" stroke="#ff0a00" stroke-width="1.5"/>
<rect x="558.9" y="211.3" width="29" height="31" fill="#fff" stroke="#5e4a65" stroke-width="1" stroke-opacity=".8"/>
<text x="573.4" y="237.1" text-anchor="middle" font-size="28.5" fill="#5e4a65" fill-opacity=".85" stroke="#fff" stroke-width=".7">2</text>
<rect x="360.9" y="271.3" width="29" height="31" fill="#fff" stroke="#0f1cff" stroke-width="1" stroke-opacity=".8"/>
<text x="375.4" y="297.1" text-anchor="middle" font-size="28.5" fill="#0f1cff" fill-opacity=".85" stroke="#fff" stroke-width=".7">1</text>
<rect x="367.5" y="435.5" width="29" height="31" fill="#fff" stroke="#ffd500" stroke-width="1" stroke-opacity=".8"/>
<text x="382" y="461.3" text-anchor="middle" font-size="28.5" fill="#ffd500" fill-opacity=".85" stroke="#fff" stroke-width=".7">3</text>
<rect x="583.5" y="472" width="29" height="31" fill="#fff" stroke="#ff6200" stroke-width="1" stroke-opacity=".8"/>
<text x="598" y="497.8" text-anchor="middle" font-size="28.5" fill="#ff6200" fill-opacity=".85" stroke="#fff" stroke-width=".7">4</text>
<rect x="524.8" y="326.2" width="29" height="31" fill="#fff" stroke="#ff0a00" stroke-width="1" stroke-opacity=".8"/>
<text x="539.3" y="352" text-anchor="middle" font-size="28.5" fill="#ff0a00" fill-opacity=".85" stroke="#fff" stroke-width=".7">5</text>
<rect x="21.4" y="499.6" width="243.2" height="171.8" fill="#fff" fill-opacity=".72" stroke="none"/>
<path d="M103.4 665.8L103.4 544.6L122 534.8L136.1 529.1L150.3 526.4L166.6 525L257.6 525L257.6 665.8Z" fill="#bebebe" fill-opacity=".86"/>
<path d="M29 665.8L29 654.9L30.5 647.6L32.4 639.1L37 624.6L41.6 610.7L46.9 597.9L52.1 588L58.8 579.1L66.2 571.3L72.9 564.6L80.1 558.5L87 553.1L94.1 548.8L103.4 544.6L103.4 665.8Z" fill="#000" fill-opacity=".78"/>
<path d="M103.4 665.8L103.4 544.6L122 534.8L136.1 529.1L150.3 526.4L166.6 525L257.6 525L257.6 665.8Z" fill="url(#stripeL)"/>
<path d="M29 665.8L29 654.9L30.5 647.6L32.4 639.1L37 624.6L41.6 610.7L46.9 597.9L52.1 588L58.8 579.1L66.2 571.3L72.9 564.6L80.1 558.5L87 553.1L94.1 548.8L103.4 544.6L103.4 665.8Z" fill="url(#stripeD)"/>
<text x="24.3" y="532.3" font-size="27.2" fill="#000">PCA eigenvalues</text>
<rect x="21.4" y="499.6" width="243.2" height="171.8" fill="none" stroke="#000" stroke-width="1.6"/>
<rect x="709.2" y="499.8" width="243.2" height="171.6" fill="#fff" fill-opacity=".72" stroke="#000" stroke-width="1.6"/>
<text x="750.6" y="532.3" font-size="27.2" fill="#000">DA eigenvalues</text>
<rect x="718.3" y="515.5" width="48" height="155.9" fill="#000" fill-opacity=".45" stroke="#000" stroke-width="2"/>
<rect x="777.6" y="528.7" width="47.5" height="142.7" fill="#000" fill-opacity=".45" stroke="#000" stroke-width="2"/>
<rect x="836.4" y="583.2" width="48" height="88.2" fill="#d3d3d3" fill-opacity=".8" stroke="#000" stroke-width="2"/>
<rect x="895.7" y="610.7" width="48" height="60.7" fill="#d3d3d3" fill-opacity=".8" stroke="#000" stroke-width="2"/>
<rect x="1.5" y="1" width="971" height="684.5" fill="none" stroke="#2b2b2b" stroke-width="3"/>
<text x="16.8" y="28.5" font-family="'Liberation Serif',serif" font-weight="bold" font-size="34" fill="#000">a</text>
</g>
<g id="panel-b">
<path d="M1599.3 3.5V688.6" stroke="#1c2222" stroke-width="1.5" fill="none"/>
<path d="M1034.8 362.4H2006" stroke="#000" stroke-width="1.8" fill="none"/>
<g fill="#1422ff" fill-opacity=".85"><circle cx="1293.1" cy="191.2" r="4.7"/><circle cx="1281.1" cy="242.9" r="4.7"/><circle cx="1255.4" cy="270.4" r="4.7"/><circle cx="1278.6" cy="304.1" r="4.7"/><circle cx="1457.7" cy="301.9" r="4.7"/><circle cx="1150" cy="422.4" r="4.7"/><circle cx="1203.7" cy="388" r="4.7"/><circle cx="1206.2" cy="412.9" r="4.7"/><circle cx="1266.1" cy="406.9" r="4.7"/><circle cx="1279.9" cy="406.2" r="4.7"/><circle cx="1221.9" cy="436.2" r="4.7"/><circle cx="1154.5" cy="464.9" r="4.7"/><circle cx="1216.9" cy="462.4" r="4.7"/><circle cx="1257.9" cy="461.9" r="4.7"/><circle cx="1296.1" cy="451.1" r="4.7"/><circle cx="1311.1" cy="469.9" r="4.7"/><circle cx="1176.2" cy="499.3" r="4.7"/><circle cx="1198.7" cy="494.3" r="4.7"/><circle cx="1275.4" cy="496.8" r="4.7"/><circle cx="1314.3" cy="391.9" r="4.7"/><circle cx="1327.3" cy="392.9" r="4.7"/><circle cx="1358" cy="381.2" r="4.7"/><circle cx="1354.8" cy="387.5" r="4.7"/><circle cx="1359.3" cy="396.9" r="4.7"/><circle cx="1388.5" cy="377.5" r="4.7"/><circle cx="1399.7" cy="378.7" r="4.7"/><circle cx="1398" cy="393.2" r="4.7"/><circle cx="1407.2" cy="407.4" r="4.7"/><circle cx="1374" cy="419.4" r="4.7"/><circle cx="1371.5" cy="426.7" r="4.7"/><circle cx="1395.2" cy="428.7" r="4.7"/><circle cx="1472.7" cy="430.7" r="4.7"/><circle cx="1319.8" cy="431.2" r="4.7"/><circle cx="1329.3" cy="430.4" r="4.7"/><circle cx="1330.3" cy="435.4" r="4.7"/><circle cx="1294.8" cy="516.7" r="4.7"/><circle cx="1222.4" cy="539.4" r="4.7"/><circle cx="1271.6" cy="552.9" r="4.7"/><circle cx="1357.2" cy="395" r="4.7"/><circle cx="1271" cy="440.1" r="4.7"/><circle cx="1277" cy="461.4" r="4.7"/><circle cx="1328.4" cy="399" r="4.7"/><circle cx="1222.8" cy="440.5" r="4.7"/><circle cx="1364.3" cy="375.3" r="4.7"/></g>
<g fill="#7d6b83" fill-opacity=".85"><circle cx="1559.6" cy="191.2" r="4.7"/><circle cx="1519.6" cy="213.7" r="4.7"/><circle cx="1614" cy="245.4" r="4.7"/><circle cx="1620.8" cy="282.9" r="4.7"/><circle cx="1586.1" cy="67.5" r="4.7"/><circle cx="1640.3" cy="60.7" r="4.7"/><circle cx="1609.8" cy="76.7" r="4.7"/><circle cx="1684.2" cy="81.2" r="4.7"/><circle cx="1736.7" cy="88.2" r="4.7"/><circle cx="1759.2" cy="93.2" r="4.7"/><circle cx="1569.9" cy="96.9" r="4.7"/><circle cx="1691" cy="103.7" r="4.7"/><circle cx="1654.3" cy="113.2" r="4.7"/><circle cx="1622.8" cy="116.7" r="4.7"/><circle cx="1609.3" cy="121.9" r="4.7"/><circle cx="1619.8" cy="129.2" r="4.7"/><circle cx="1687.7" cy="124.4" r="4.7"/><circle cx="1711" cy="123.7" r="4.7"/><circle cx="1689.2" cy="143.1" r="4.7"/><circle cx="1532.4" cy="141.9" r="4.7"/><circle cx="1591.1" cy="144.4" r="4.7"/><circle cx="1765.9" cy="154.4" r="4.7"/><circle cx="1775.1" cy="165.4" r="4.7"/><circle cx="1709.7" cy="170.4" r="4.7"/><circle cx="1639.3" cy="172.4" r="4.7"/><circle cx="1682.2" cy="174.9" r="4.7"/><circle cx="1559.9" cy="191.6" r="4.7"/><circle cx="1625.5" cy="189.9" r="4.7"/><circle cx="1694.2" cy="184.4" r="4.7"/><circle cx="1701" cy="190.6" r="4.7"/><circle cx="1702.2" cy="199.3" r="4.7"/><circle cx="1702.2" cy="200.7" r="4.7"/><circle cx="1735.9" cy="210" r="4.7"/><circle cx="1745.9" cy="210.7" r="4.7"/><circle cx="1806.6" cy="229.5" r="4.7"/><circle cx="1716" cy="232.5" r="4.7"/><circle cx="1663.5" cy="238" r="4.7"/><circle cx="1720.9" cy="247.5" r="4.7"/><circle cx="1614.3" cy="245" r="4.7"/><circle cx="1637.3" cy="242.5" r="4.7"/><circle cx="1634.8" cy="252.4" r="4.7"/><circle cx="1691" cy="250" r="4.7"/><circle cx="1669" cy="257.4" r="4.7"/><circle cx="1678.5" cy="266.2" r="4.7"/><circle cx="1675.2" cy="276.7" r="4.7"/><circle cx="1621" cy="283.7" r="4.7"/><circle cx="1709" cy="296.2" r="4.7"/><circle cx="1654.5" cy="236.9" r="4.7"/><circle cx="1657.7" cy="209.9" r="4.7"/><circle cx="1669.4" cy="207.8" r="4.7"/><circle cx="1676.2" cy="219.5" r="4.7"/></g>
<g fill="#ffd500" fill-opacity=".85"><circle cx="1537.1" cy="359.5" r="4.7"/><circle cx="1533.4" cy="378.7" r="4.7"/><circle cx="1588.3" cy="372" r="4.7"/><circle cx="1570.8" cy="390" r="4.7"/><circle cx="1585.8" cy="414.4" r="4.7"/><circle cx="1533.4" cy="462.4" r="4.7"/><circle cx="1524.1" cy="504.1" r="4.7"/><circle cx="1607" cy="431.2" r="4.7"/><circle cx="1609.5" cy="438.7" r="4.7"/><circle cx="1586.3" cy="553.2" r="4.7"/><circle cx="1567.8" cy="574.4" r="4.7"/><circle cx="1610.3" cy="296.2" r="4.7"/><circle cx="1711" cy="318.6" r="4.7"/><circle cx="1718.5" cy="336.1" r="4.7"/><circle cx="1629.8" cy="324.9" r="4.7"/><circle cx="1698.5" cy="352.3" r="4.7"/><circle cx="1631" cy="357.3" r="4.7"/><circle cx="1614.8" cy="352.3" r="4.7"/><circle cx="1587.8" cy="371.1" r="4.7"/><circle cx="1682.2" cy="357.3" r="4.7"/><circle cx="1673.5" cy="359.8" r="4.7"/><circle cx="1588.6" cy="372.5" r="4.7"/><circle cx="1571.1" cy="390" r="4.7"/><circle cx="1586.1" cy="414.9" r="4.7"/><circle cx="1607.3" cy="431.2" r="4.7"/><circle cx="1609.1" cy="437.9" r="4.7"/><circle cx="1644.8" cy="489.4" r="4.7"/><circle cx="1668" cy="509.8" r="4.7"/><circle cx="1692.7" cy="487.9" r="4.7"/><circle cx="1786.4" cy="487.4" r="4.7"/><circle cx="1725.2" cy="416.7" r="4.7"/><circle cx="1708.5" cy="393.7" r="4.7"/><circle cx="1753.4" cy="393" r="4.7"/><circle cx="1773.4" cy="428.7" r="4.7"/><circle cx="1702.2" cy="427.9" r="4.7"/><circle cx="1709.7" cy="433.2" r="4.7"/><circle cx="1693.5" cy="436.2" r="4.7"/><circle cx="1679.7" cy="446.2" r="4.7"/><circle cx="1668.1" cy="510" r="4.7"/><circle cx="1692.3" cy="488.7" r="4.7"/><circle cx="1656.6" cy="556.7" r="4.7"/><circle cx="1702.3" cy="563.7" r="4.7"/><circle cx="1735.3" cy="574.4" r="4.7"/><circle cx="1634.6" cy="412.2" r="4.7"/><circle cx="1641.6" cy="469.8" r="4.7"/><circle cx="1649.6" cy="390.5" r="4.7"/><circle cx="1649.3" cy="365" r="4.7"/><circle cx="1695.5" cy="352.7" r="4.7"/><circle cx="1630.5" cy="380.4" r="4.7"/><circle cx="1639.5" cy="493.1" r="4.7"/><circle cx="1673.6" cy="367.6" r="4.7"/><circle cx="1641.6" cy="459.1" r="4.7"/><circle cx="1636.1" cy="491.1" r="4.7"/><circle cx="1623.9" cy="410.2" r="4.7"/><circle cx="1613.1" cy="373.6" r="4.7"/><circle cx="1674.9" cy="367.9" r="4.7"/><circle cx="1634.8" cy="403.3" r="4.7"/></g>
<g fill="#ff6608" fill-opacity=".85"><circle cx="1555.8" cy="414.9" r="4.7"/><circle cx="1544.6" cy="582.4" r="4.7"/><circle cx="1818.4" cy="370.5" r="4.7"/><circle cx="1820.8" cy="394.2" r="4.7"/><circle cx="1743.9" cy="393" r="4.7"/><circle cx="1772.6" cy="408.7" r="4.7"/><circle cx="1785.9" cy="407.4" r="4.7"/><circle cx="1789.1" cy="402.4" r="4.7"/><circle cx="1799.6" cy="417.9" r="4.7"/><circle cx="1837.1" cy="425.4" r="4.7"/><circle cx="1807.9" cy="431.7" r="4.7"/><circle cx="1880.8" cy="433.7" r="4.7"/><circle cx="1709.7" cy="424.2" r="4.7"/><circle cx="1745.4" cy="427.9" r="4.7"/><circle cx="1752.9" cy="438.2" r="4.7"/><circle cx="1782.1" cy="443.7" r="4.7"/><circle cx="1800.9" cy="449.4" r="4.7"/><circle cx="1713.5" cy="449.2" r="4.7"/><circle cx="1780.9" cy="456.6" r="4.7"/><circle cx="1820.8" cy="457.9" r="4.7"/><circle cx="1889.5" cy="461.1" r="4.7"/><circle cx="1778.4" cy="463.6" r="4.7"/><circle cx="1767.2" cy="453.6" r="4.7"/><circle cx="1638.5" cy="475.6" r="4.7"/><circle cx="1667.3" cy="476.1" r="4.7"/><circle cx="1675.2" cy="471.6" r="4.7"/><circle cx="1688.5" cy="479.9" r="4.7"/><circle cx="1708.5" cy="483.6" r="4.7"/><circle cx="1719.7" cy="490.6" r="4.7"/><circle cx="1722.2" cy="499.9" r="4.7"/><circle cx="1831.6" cy="511.8" r="4.7"/><circle cx="1699.7" cy="519.3" r="4.7"/><circle cx="1685.6" cy="609.1" r="4.7"/><circle cx="1682.3" cy="556.7" r="4.7"/><circle cx="1686.8" cy="532.4" r="4.7"/><circle cx="1698.6" cy="520" r="4.7"/><circle cx="1702.3" cy="581.1" r="4.7"/><circle cx="1767.2" cy="611.6" r="4.7"/><circle cx="1817.2" cy="630.6" r="4.7"/><circle cx="1822.7" cy="582.4" r="4.7"/><circle cx="1875.9" cy="552.4" r="4.7"/><circle cx="1830.9" cy="512" r="4.7"/><circle cx="1752.3" cy="559.4" r="4.7"/><circle cx="1799.7" cy="538.7" r="4.7"/><circle cx="1719.7" cy="533.6" r="4.7"/><circle cx="1757.7" cy="450.9" r="4.7"/><circle cx="1723.8" cy="541.7" r="4.7"/><circle cx="1766.5" cy="449.2" r="4.7"/><circle cx="1804.5" cy="436.3" r="4.7"/><circle cx="1716.1" cy="528.4" r="4.7"/><circle cx="1689.3" cy="490.9" r="4.7"/><circle cx="1654.5" cy="483" r="4.7"/><circle cx="1723.6" cy="549.2" r="4.7"/><circle cx="1795.2" cy="422.6" r="4.7"/><circle cx="1778.5" cy="451.3" r="4.7"/><circle cx="1763.2" cy="445.8" r="4.7"/><circle cx="1727.7" cy="508.5" r="4.7"/><circle cx="1732.4" cy="513.5" r="4.7"/><circle cx="1700.9" cy="492.4" r="4.7"/><circle cx="1727.3" cy="514.3" r="4.7"/></g>
<g fill="#ff0c0c" fill-opacity=".85"><circle cx="1439.7" cy="240.9" r="4.7"/><circle cx="1411.7" cy="269.2" r="4.7"/><circle cx="1419.2" cy="279.4" r="4.7"/><circle cx="1445.9" cy="288.1" r="4.7"/><circle cx="1453.4" cy="301.1" r="4.7"/><circle cx="1437.2" cy="329.4" r="4.7"/><circle cx="1511.6" cy="337.8" r="4.7"/><circle cx="1520.9" cy="223.7" r="4.7"/><circle cx="1590.8" cy="225.5" r="4.7"/><circle cx="1554.6" cy="253.7" r="4.7"/><circle cx="1573.3" cy="256.2" r="4.7"/><circle cx="1535.4" cy="266.2" r="4.7"/><circle cx="1594.5" cy="269.9" r="4.7"/><circle cx="1630.8" cy="299.4" r="4.7"/><circle cx="1609.5" cy="303.6" r="4.7"/><circle cx="1603.3" cy="319.9" r="4.7"/><circle cx="1627.5" cy="259.9" r="4.7"/><circle cx="1549.6" cy="346.1" r="4.7"/><circle cx="1436" cy="384.5" r="4.7"/><circle cx="1519.6" cy="481.6" r="4.7"/><circle cx="1540.8" cy="377.5" r="4.7"/><circle cx="1552.1" cy="378.7" r="4.7"/><circle cx="1617" cy="422.4" r="4.7"/><circle cx="1579.6" cy="358.7" r="4.7"/><circle cx="1504.2" cy="96.2" r="4.7"/><circle cx="1504.2" cy="159.4" r="4.7"/><circle cx="1544.1" cy="170.6" r="4.7"/><circle cx="1604.1" cy="156.1" r="4.7"/><circle cx="1649.8" cy="240" r="4.7"/><circle cx="1627.3" cy="259.9" r="4.7"/><circle cx="1645.3" cy="265.4" r="4.7"/><circle cx="1687.7" cy="259.2" r="4.7"/><circle cx="1631" cy="299.4" r="4.7"/><circle cx="1610.3" cy="303.6" r="4.7"/><circle cx="1603.6" cy="320.4" r="4.7"/><circle cx="1635.3" cy="331.1" r="4.7"/><circle cx="1596.8" cy="329.9" r="4.7"/><circle cx="1603.6" cy="338.6" r="4.7"/><circle cx="1692.7" cy="359.8" r="4.7"/><circle cx="1578.6" cy="358.6" r="4.7"/><circle cx="1549.9" cy="347.4" r="4.7"/><circle cx="1617.3" cy="422.4" r="4.7"/><circle cx="1648.5" cy="385.5" r="4.7"/><circle cx="1636" cy="400" r="4.7"/><circle cx="1624.8" cy="396.2" r="4.7"/><circle cx="1633.5" cy="378.7" r="4.7"/><circle cx="1612.3" cy="383.7" r="4.7"/><circle cx="1619.8" cy="408.7" r="4.7"/><circle cx="1570.8" cy="395.8" r="4.7"/><circle cx="1599.3" cy="388.6" r="4.7"/><circle cx="1604.9" cy="383.9" r="4.7"/><circle cx="1548.9" cy="373.9" r="4.7"/><circle cx="1586.4" cy="340.6" r="4.7"/><circle cx="1589.1" cy="344.2" r="4.7"/><circle cx="1602.2" cy="390.3" r="4.7"/><circle cx="1591.5" cy="363.7" r="4.7"/><circle cx="1618.2" cy="368.8" r="4.7"/><circle cx="1588.7" cy="373.6" r="4.7"/><circle cx="1556.9" cy="383.9" r="4.7"/><circle cx="1582" cy="339.9" r="4.7"/></g>
<path d="M1301.5 413L1293.1 191.2M1301.5 413L1281.1 242.9M1301.5 413L1255.4 270.4M1301.5 413L1278.6 304.1M1301.5 413L1457.7 301.9M1301.5 413L1150 422.4M1301.5 413L1203.7 388M1301.5 413L1206.2 412.9M1301.5 413L1266.1 406.9M1301.5 413L1279.9 406.2M1301.5 413L1221.9 436.2M1301.5 413L1154.5 464.9M1301.5 413L1216.9 462.4M1301.5 413L1257.9 461.9M1301.5 413L1296.1 451.1M1301.5 413L1311.1 469.9M1301.5 413L1176.2 499.3M1301.5 413L1198.7 494.3M1301.5 413L1275.4 496.8M1301.5 413L1314.3 391.9M1301.5 413L1327.3 392.9M1301.5 413L1358 381.2M1301.5 413L1354.8 387.5M1301.5 413L1359.3 396.9M1301.5 413L1388.5 377.5M1301.5 413L1399.7 378.7M1301.5 413L1398 393.2M1301.5 413L1407.2 407.4M1301.5 413L1374 419.4M1301.5 413L1371.5 426.7M1301.5 413L1395.2 428.7M1301.5 413L1472.7 430.7M1301.5 413L1319.8 431.2M1301.5 413L1329.3 430.4M1301.5 413L1330.3 435.4M1301.5 413L1294.8 516.7M1301.5 413L1222.4 539.4M1301.5 413L1271.6 552.9M1301.5 413L1357.2 395M1301.5 413L1271 440.1M1301.5 413L1277 461.4M1301.5 413L1328.4 399M1301.5 413L1222.8 440.5M1301.5 413L1364.3 375.3" stroke="#0f1cff" stroke-width="1.9" fill="none"/>
<path d="M1664 179L1559.6 191.2M1664 179L1519.6 213.7M1664 179L1614 245.4M1664 179L1620.8 282.9M1664 179L1586.1 67.5M1664 179L1640.3 60.7M1664 179L1609.8 76.7M1664 179L1684.2 81.2M1664 179L1736.7 88.2M1664 179L1759.2 93.2M1664 179L1569.9 96.9M1664 179L1691 103.7M1664 179L1654.3 113.2M1664 179L1622.8 116.7M1664 179L1609.3 121.9M1664 179L1619.8 129.2M1664 179L1687.7 124.4M1664 179L1711 123.7M1664 179L1689.2 143.1M1664 179L1532.4 141.9M1664 179L1591.1 144.4M1664 179L1765.9 154.4M1664 179L1775.1 165.4M1664 179L1709.7 170.4M1664 179L1639.3 172.4M1664 179L1682.2 174.9M1664 179L1559.9 191.6M1664 179L1625.5 189.9M1664 179L1694.2 184.4M1664 179L1701 190.6M1664 179L1702.2 199.3M1664 179L1702.2 200.7M1664 179L1735.9 210M1664 179L1745.9 210.7M1664 179L1806.6 229.5M1664 179L1716 232.5M1664 179L1663.5 238M1664 179L1720.9 247.5M1664 179L1614.3 245M1664 179L1637.3 242.5M1664 179L1634.8 252.4M1664 179L1691 250M1664 179L1669 257.4M1664 179L1678.5 266.2M1664 179L1675.2 276.7M1664 179L1621 283.7M1664 179L1709 296.2M1664 179L1654.5 236.9M1664 179L1657.7 209.9M1664 179L1669.4 207.8M1664 179L1676.2 219.5" stroke="#5e4a65" stroke-width="1.4" fill="none"/>
<path d="M1660 426L1537.1 359.5M1660 426L1533.4 378.7M1660 426L1588.3 372M1660 426L1570.8 390M1660 426L1585.8 414.4M1660 426L1533.4 462.4M1660 426L1524.1 504.1M1660 426L1607 431.2M1660 426L1609.5 438.7M1660 426L1586.3 553.2M1660 426L1567.8 574.4M1660 426L1610.3 296.2M1660 426L1711 318.6M1660 426L1718.5 336.1M1660 426L1629.8 324.9M1660 426L1698.5 352.3M1660 426L1631 357.3M1660 426L1614.8 352.3M1660 426L1587.8 371.1M1660 426L1682.2 357.3M1660 426L1673.5 359.8M1660 426L1588.6 372.5M1660 426L1571.1 390M1660 426L1586.1 414.9M1660 426L1607.3 431.2M1660 426L1609.1 437.9M1660 426L1644.8 489.4M1660 426L1668 509.8M1660 426L1692.7 487.9M1660 426L1786.4 487.4M1660 426L1725.2 416.7M1660 426L1708.5 393.7M1660 426L1753.4 393M1660 426L1773.4 428.7M1660 426L1702.2 427.9M1660 426L1709.7 433.2M1660 426L1693.5 436.2M1660 426L1679.7 446.2M1660 426L1668.1 510M1660 426L1692.3 488.7M1660 426L1656.6 556.7M1660 426L1702.3 563.7M1660 426L1735.3 574.4M1660 426L1634.6 412.2M1660 426L1641.6 469.8M1660 426L1649.6 390.5M1660 426L1649.3 365M1660 426L1695.5 352.7M1660 426L1630.5 380.4M1660 426L1639.5 493.1M1660 426L1673.6 367.6M1660 426L1641.6 459.1M1660 426L1636.1 491.1M1660 426L1623.9 410.2M1660 426L1613.1 373.6M1660 426L1674.9 367.9M1660 426L1634.8 403.3" stroke="#ffd500" stroke-width="1.8" fill="none"/>
<path d="M1744 483L1555.8 414.9M1744 483L1544.6 582.4M1744 483L1818.4 370.5M1744 483L1820.8 394.2M1744 483L1743.9 393M1744 483L1772.6 408.7M1744 483L1785.9 407.4M1744 483L1789.1 402.4M1744 483L1799.6 417.9M1744 483L1837.1 425.4M1744 483L1807.9 431.7M1744 483L1880.8 433.7M1744 483L1709.7 424.2M1744 483L1745.4 427.9M1744 483L1752.9 438.2M1744 483L1782.1 443.7M1744 483L1800.9 449.4M1744 483L1713.5 449.2M1744 483L1780.9 456.6M1744 483L1820.8 457.9M1744 483L1889.5 461.1M1744 483L1778.4 463.6M1744 483L1767.2 453.6M1744 483L1638.5 475.6M1744 483L1667.3 476.1M1744 483L1675.2 471.6M1744 483L1688.5 479.9M1744 483L1708.5 483.6M1744 483L1719.7 490.6M1744 483L1722.2 499.9M1744 483L1831.6 511.8M1744 483L1699.7 519.3M1744 483L1685.6 609.1M1744 483L1682.3 556.7M1744 483L1686.8 532.4M1744 483L1698.6 520M1744 483L1702.3 581.1M1744 483L1767.2 611.6M1744 483L1817.2 630.6M1744 483L1822.7 582.4M1744 483L1875.9 552.4M1744 483L1830.9 512M1744 483L1752.3 559.4M1744 483L1799.7 538.7M1744 483L1719.7 533.6M1744 483L1757.7 450.9M1744 483L1723.8 541.7M1744 483L1766.5 449.2M1744 483L1804.5 436.3M1744 483L1716.1 528.4M1744 483L1689.3 490.9M1744 483L1654.5 483M1744 483L1723.6 549.2M1744 483L1795.2 422.6M1744 483L1778.5 451.3M1744 483L1763.2 445.8M1744 483L1727.7 508.5M1744 483L1732.4 513.5M1744 483L1700.9 492.4M1744 483L1727.3 514.3" stroke="#ff6200" stroke-width="1.8" fill="none"/>
<path d="M1567 310.5L1439.7 240.9M1567 310.5L1411.7 269.2M1567 310.5L1419.2 279.4M1567 310.5L1445.9 288.1M1567 310.5L1453.4 301.1M1567 310.5L1437.2 329.4M1567 310.5L1511.6 337.8M1567 310.5L1520.9 223.7M1567 310.5L1590.8 225.5M1567 310.5L1554.6 253.7M1567 310.5L1573.3 256.2M1567 310.5L1535.4 266.2M1567 310.5L1594.5 269.9M1567 310.5L1630.8 299.4M1567 310.5L1609.5 303.6M1567 310.5L1603.3 319.9M1567 310.5L1627.5 259.9M1567 310.5L1549.6 346.1M1567 310.5L1436 384.5M1567 310.5L1519.6 481.6M1567 310.5L1540.8 377.5M1567 310.5L1552.1 378.7M1567 310.5L1617 422.4M1567 310.5L1579.6 358.7M1567 310.5L1504.2 96.2M1567 310.5L1504.2 159.4M1567 310.5L1544.1 170.6M1567 310.5L1604.1 156.1M1567 310.5L1649.8 240M1567 310.5L1627.3 259.9M1567 310.5L1645.3 265.4M1567 310.5L1687.7 259.2M1567 310.5L1631 299.4M1567 310.5L1610.3 303.6M1567 310.5L1603.6 320.4M1567 310.5L1635.3 331.1M1567 310.5L1596.8 329.9M1567 310.5L1603.6 338.6M1567 310.5L1692.7 359.8M1567 310.5L1578.6 358.6M1567 310.5L1549.9 347.4M1567 310.5L1617.3 422.4M1567 310.5L1648.5 385.5M1567 310.5L1636 400M1567 310.5L1624.8 396.2M1567 310.5L1633.5 378.7M1567 310.5L1612.3 383.7M1567 310.5L1619.8 408.7M1567 310.5L1570.8 395.8M1567 310.5L1599.3 388.6M1567 310.5L1604.9 383.9M1567 310.5L1548.9 373.9M1567 310.5L1586.4 340.6M1567 310.5L1589.1 344.2M1567 310.5L1602.2 390.3M1567 310.5L1591.5 363.7M1567 310.5L1618.2 368.8M1567 310.5L1588.7 373.6M1567 310.5L1556.9 383.9M1567 310.5L1582 339.9" stroke="#ff0a00" stroke-width="1.8" fill="none"/>
<ellipse cx="1301" cy="413" rx="125.6" ry="97.8" transform="rotate(-37.7 1301 413)" fill="none" stroke="#0f1cff" stroke-width="1.5"/>
<ellipse cx="1664.5" cy="179" rx="90.6" ry="100.2" transform="rotate(-36 1664.5 179)" fill="none" stroke="#5e4a65" stroke-width="1.3"/>
<ellipse cx="1660.4" cy="426.2" rx="96" ry="105" transform="rotate(0 1660.4 426.2)" fill="none" stroke="#ffd500" stroke-width="1.5"/>
<ellipse cx="1745" cy="483.6" rx="112.2" ry="95.9" transform="rotate(-17.7 1745 483.6)" fill="none" stroke="#ff6200" stroke-width="1.5"/>
<ellipse cx="1567.5" cy="310" rx="99.6" ry="119.6" transform="rotate(-33 1567.5 310)" fill="none" stroke="#ff0a00" stroke-width="1.5"/>
<rect x="1649.5" y="163.5" width="29" height="31" fill="#fff" stroke="#5e4a65" stroke-width="1" stroke-opacity=".8"/>
<text x="1664" y="189.3" text-anchor="middle" font-size="28.5" fill="#5e4a65" fill-opacity=".85" stroke="#fff" stroke-width=".7">2</text>
<rect x="1287" y="397.5" width="29" height="31" fill="#fff" stroke="#0f1cff" stroke-width="1" stroke-opacity=".8"/>
<text x="1301.5" y="423.3" text-anchor="middle" font-size="28.5" fill="#0f1cff" fill-opacity=".85" stroke="#fff" stroke-width=".7">1</text>
<rect x="1645.5" y="410.5" width="29" height="31" fill="#fff" stroke="#ffd500" stroke-width="1" stroke-opacity=".8"/>
<text x="1660" y="436.3" text-anchor="middle" font-size="28.5" fill="#ffd500" fill-opacity=".85" stroke="#fff" stroke-width=".7">3</text>
<rect x="1729.5" y="467.5" width="29" height="31" fill="#fff" stroke="#ff6200" stroke-width="1" stroke-opacity=".8"/>
<text x="1744" y="493.3" text-anchor="middle" font-size="28.5" fill="#ff6200" fill-opacity=".85" stroke="#fff" stroke-width=".7">4</text>
<rect x="1552.5" y="295" width="29" height="31" fill="#fff" stroke="#ff0a00" stroke-width="1" stroke-opacity=".8"/>
<text x="1567" y="320.8" text-anchor="middle" font-size="28.5" fill="#ff0a00" fill-opacity=".85" stroke="#fff" stroke-width=".7">5</text>
<rect x="1054.6" y="502.3" width="243.6" height="171.9" fill="#fff" fill-opacity=".72" stroke="none"/>
<path d="M1144.1 668.5L1144.1 542L1164.5 534.9L1180 530.8L1195.6 528.8L1213.5 527.8L1290.4 527.8L1290.4 668.5Z" fill="#bebebe" fill-opacity=".86"/>
<path d="M1062.4 668.5L1062.4 657.1L1064 649.5L1066.2 640.7L1071.1 625.5L1076.3 610.9L1082 597.7L1087.7 587.3L1095.1 578.1L1103.2 569.8L1110.6 562.9L1118.5 556.5L1126.1 550.9L1133.9 546.4L1144.1 542L1144.1 668.5Z" fill="#000" fill-opacity=".78"/>
<path d="M1144.1 668.5L1144.1 542L1164.5 534.9L1180 530.8L1195.6 528.8L1213.5 527.8L1290.4 527.8L1290.4 668.5Z" fill="url(#stripeL)"/>
<path d="M1062.4 668.5L1062.4 657.1L1064 649.5L1066.2 640.7L1071.1 625.5L1076.3 610.9L1082 597.7L1087.7 587.3L1095.1 578.1L1103.2 569.8L1110.6 562.9L1118.5 556.5L1126.1 550.9L1133.9 546.4L1144.1 542L1144.1 668.5Z" fill="url(#stripeD)"/>
<text x="1057" y="534.8" font-size="27.2" fill="#000">PCA eigenvalues</text>
<rect x="1054.6" y="502.3" width="243.6" height="171.9" fill="none" stroke="#000" stroke-width="1.6"/>
<rect x="1742.2" y="502.3" width="243.3" height="171.9" fill="#fff" fill-opacity=".72" stroke="#000" stroke-width="1.6"/>
<text x="1783.4" y="534.7" font-size="27.2" fill="#000">DA eigenvalues</text>
<rect x="1751.9" y="518.4" width="46.9" height="155.8" fill="#000" fill-opacity=".45" stroke="#000" stroke-width="2"/>
<rect x="1810.6" y="589" width="47.4" height="85.2" fill="#000" fill-opacity=".45" stroke="#000" stroke-width="2"/>
<rect x="1869.3" y="613.3" width="47.4" height="60.9" fill="#d3d3d3" fill-opacity=".8" stroke="#000" stroke-width="2"/>
<rect x="1928.5" y="622" width="47.6" height="52.2" fill="#d3d3d3" fill-opacity=".8" stroke="#000" stroke-width="2"/>
<rect x="1034.8" y="3.5" width="971.2" height="685.1" fill="none" stroke="#2b2b2b" stroke-width="3"/>
<text x="1053" y="37.2" font-family="'Liberation Serif',serif" font-weight="bold" font-size="34" fill="#000">b</text>
</g>
</svg>
</body></html>
